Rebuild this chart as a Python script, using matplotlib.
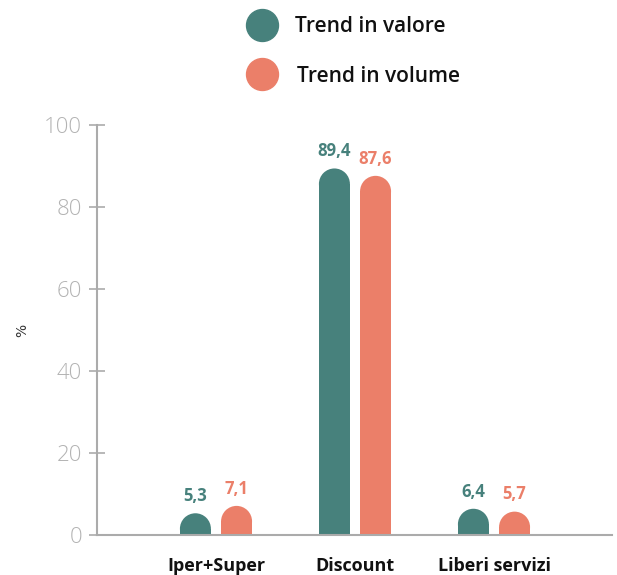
import matplotlib.pyplot as plt
import numpy as np
from matplotlib.patches import Rectangle, Ellipse
from matplotlib.lines import Line2D

# data
categories = ['Iper+Super', 'Discount', 'Liberi servizi']
valore = [5.3, 89.4, 6.4]
volume = [7.1, 87.6, 5.7]
series_names = ['Trend in valore', 'Trend in volume']

TEAL = '#47817c'
SALMON = '#eb7f69'
GRID = '#ababab'
TICKC = '#b3b3b3'

W, H = 617, 575
fig = plt.figure(figsize=(W / 100, H / 100), dpi=100)
ax = fig.add_axes([97 / W, 40 / H, 515 / W, 410 / H])

ax.set_xlim(-0.856, 2.849)
ax.set_ylim(0, 100)

bar_w = 0.223
offset = 0.148
# radius of the rounded top in data units (y)
px_per_unit_y = 410 / 100
px_per_unit_x = 139
r_y = (bar_w * px_per_unit_x / 2) / px_per_unit_y


def rounded_bar(x, val, color):
    """Bar with a half-circle on top"""
    base_h = max(val - r_y, 0)
    ax.add_patch(Rectangle((x - bar_w / 2, 0), bar_w, base_h, color=color, lw=0, zorder=2))
    ax.add_patch(Ellipse((x, base_h), bar_w, 2 * r_y, color=color, lw=0, zorder=2))
    ax.text(x, val + 2.0, f'{val:.1f}'.replace('.', ','), ha='center', va='bottom',
            color=color, fontsize=12, fontweight='bold', family='Open Sans')


xs = np.arange(len(categories))
for i, x in enumerate(xs):
    rounded_bar(x - offset, valore[i], TEAL)
    rounded_bar(x + offset, volume[i], SALMON)

# axes styling
for s in ['top', 'right']:
    ax.spines[s].set_visible(False)
for s in ['left', 'bottom']:
    ax.spines[s].set_color(GRID)
    ax.spines[s].set_linewidth(1.5)

ax.set_yticks([0, 20, 40, 60, 80, 100])
ax.tick_params(axis='y', direction='inout', length=11.5, width=1.2, color=GRID,
               labelcolor=TICKC, labelsize=16, pad=5)
for lab in ax.get_yticklabels():
    lab.set_family('Open Sans')
    lab.set_fontweight('light')

ax.set_xticks(xs)
ax.set_xticklabels(categories, fontsize=13, fontweight='bold', family='Open Sans', color='#111111')
ax.tick_params(axis='x', length=0, pad=16)

fig.text(22 / W, 1 - 330 / H, '%', rotation=90, ha='center', va='center',
         fontsize=10, color='#333333')

# legend
leg_colors = [TEAL, SALMON]
leg_y = [25, 74]
text_x = [295, 297]
for name, c, y, tx in zip(series_names, leg_colors, leg_y, text_x):
    fig.add_artist(Line2D([262 / W], [1 - y / H], marker='o', markersize=23,
                          color=c, transform=fig.transFigure, lw=0))
    fig.text(tx / W, 1 - (y + 2) / H, name, ha='left', va='center',
             fontsize=15, fontweight='semibold', family='Open Sans', color='#111111')

fig.savefig('out.png', dpi=100)
